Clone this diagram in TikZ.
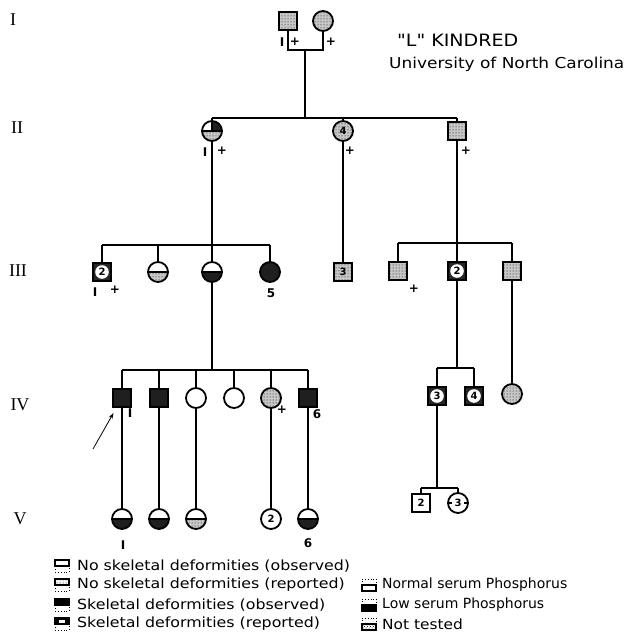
\documentclass[tikz,border=0pt]{standalone}
\usepackage{fontspec}
\setmainfont{DejaVu Sans}[Ligatures=TeXOff]
\newfontfamily\romanf{Liberation Serif}
\usetikzlibrary{patterns,arrows.meta}
\begin{document}
\begin{tikzpicture}[x=1pt,y=-1pt,
  ln/.style={line width=1.8pt},
  sq/.style={draw,line width=1.8pt,rectangle,minimum size=18pt,inner sep=0pt,font=\bfseries\fontsize{10}{10}\selectfont},
  ci/.style={draw,line width=1.8pt,circle,minimum size=20pt,inner sep=0pt,font=\bfseries\fontsize{10}{10}\selectfont},
  dotf/.style={preaction={fill=black!22},pattern=dots,pattern color=black},
  blk/.style={fill=black!88},
  lowblk/.style={path picture={\fill[black!88] (path picture bounding box.west) rectangle (path picture bounding box.south east);
      \draw[line width=1.2pt] (path picture bounding box.west) -- (path picture bounding box.east);}},
  lowdot/.style={path picture={\fill[black!22] (path picture bounding box.west) rectangle (path picture bounding box.south east);
      \fill[pattern=dots] (path picture bounding box.west) rectangle (path picture bounding box.south east);
      \draw[line width=1.2pt] (path picture bounding box.west) -- (path picture bounding box.east);}},
  midline/.style={path picture={\draw[line width=1.2pt] (path picture bounding box.west) -- ++(4pt,0pt) (path picture bounding box.east) -- ++(-4pt,0pt);}},
  quad/.style={path picture={\fill[black!88] (path picture bounding box.north) rectangle (path picture bounding box.east);
      \fill[black!22] (path picture bounding box.west) rectangle (path picture bounding box.south east);
      \fill[pattern=dots] (path picture bounding box.west) rectangle (path picture bounding box.south east);
      \draw[line width=1.2pt] (path picture bounding box.west) -- (path picture bounding box.east)
        (path picture bounding box.north) -- (path picture bounding box.center);}},
  repsq/.style={sq,fill=black!85,path picture={\fill[white] (path picture bounding box.center) circle (6.8pt);}},
  lbl/.style={font=\bfseries\fontsize{12}{12}\selectfont,inner sep=0pt},
  gen/.style={font=\romanf\fontsize{18}{18}\selectfont,inner sep=0pt},
  leg/.style={font=\fontsize{14}{14}\selectfont,anchor=west,inner sep=0pt},
  icon/.style={line width=1.3pt},
  dicon/.style={line width=0.9pt,dotted}
]
\useasboundingbox (0,0) rectangle (629,643);
% generation numerals
\node[gen] (gI) at (13,20) {I};
\node[gen] (gII) at (17,128) {II};
\node[gen] (gIII) at (18,271) {III};
\node[gen] (gIV) at (20,405) {IV};
\node[gen] (gV) at (20,519) {V};
% title
\node[font=\fontsize{17}{17}\selectfont,anchor=west,inner sep=0pt] (t1) at (397,40) {\scalebox{1.12}[1]{"L" KINDRED}};
\node[font=\fontsize{15}{15}\selectfont,anchor=west,inner sep=0pt] (t2) at (389,64) {\scalebox{1.13}[1]{University of North Carolina}};
% generation I
\node[sq,dotf] (I1) at (288,21) {};
\node[ci,dotf] (I2) at (323,21) {};
\coordinate (m1) at (288,50); \coordinate (m2) at (323,50); \coordinate (d1) at (305,50);
\draw[ln] (I1) -- (m1) -- (m2) -- (I2);
\node[lbl] (lI1a) at (282,42) {I};
\node[lbl] (lI1b) at (295,42) {+};
\node[lbl] (lI2) at (331,42) {+};
% generation II
\coordinate (s2l) at (212,118); \coordinate (s2m) at (305,118); \coordinate (s2c) at (343,118); \coordinate (s2r) at (457,118);
\draw[ln] (d1) -- (s2m);
\draw[ln] (s2l) -- (s2r);
\node[ci,quad] (II1) at (212,131) {};
\node[ci,dotf] (II2) at (343,131) {4};
\node[sq,dotf] (II3) at (457,131) {};
\draw[ln] (s2l) -- (II1); \draw[ln] (s2c) -- (II2); \draw[ln] (s2r) -- (II3);
\node[lbl] (lII1a) at (205,152) {I};
\node[lbl] (lII1b) at (222,151) {+};
\node[lbl] (lII2) at (350,151) {+};
\node[lbl] (lII3) at (466,151) {+};
% generation III left
\coordinate (s3a) at (102,245); \coordinate (s3b) at (158,245); \coordinate (s3c) at (212,245); \coordinate (s3d) at (270,245);
\draw[ln] (II1) -- (s3c);
\draw[ln] (s3a) -- (s3d);
\node[repsq] (III1) at (102,272) {2};
\node[ci,lowdot] (III2) at (158,272) {};
\node[ci,lowblk] (III3) at (212,272) {};
\node[ci,blk] (III4) at (270,272) {};
\draw[ln] (s3a) -- (III1); \draw[ln] (s3b) -- (III2); \draw[ln] (s3c) -- (III3); \draw[ln] (s3d) -- (III4);
\node[lbl] (lIII1a) at (95,292) {I};
\node[lbl] (lIII1b) at (115,290) {+};
\node[lbl] (lIII4) at (271,293) {5};
% III-5
\node[sq,dotf] (III5) at (343,272) {3};
\draw[ln] (II2) -- (III5);
% generation III right
\coordinate (s3e) at (398,243); \coordinate (s3f) at (457,243); \coordinate (s3g) at (512,243);
\draw[ln] (II3) -- (s3f);
\draw[ln] (s3e) -- (s3g);
\node[sq,dotf] (III6) at (398,271) {};
\node[repsq] (III7) at (457,271) {2};
\node[sq,dotf] (III8) at (512,271) {};
\draw[ln] (s3e) -- (III6); \draw[ln] (s3f) -- (III7); \draw[ln] (s3g) -- (III8);
\node[lbl] (lIII6) at (414,289) {+};
% generation IV left
\coordinate (s4a) at (122,370); \coordinate (s4b) at (159,370); \coordinate (s4c) at (196,370);
\coordinate (s4m) at (212,370); \coordinate (s4d) at (234,370); \coordinate (s4e) at (271,370); \coordinate (s4f) at (308,370);
\draw[ln] (III3) -- (s4m);
\draw[ln] (s4a) -- (s4f);
\node[sq,blk] (IV1) at (122,398) {};
\node[sq,blk] (IV2) at (159,398) {};
\node[ci] (IV3) at (196,398) {};
\node[ci] (IV4) at (234,398) {};
\node[ci,dotf] (IV5) at (271,398) {};
\node[sq,blk] (IV6) at (308,398) {};
\draw[ln] (s4a) -- (IV1); \draw[ln] (s4b) -- (IV2); \draw[ln] (s4c) -- (IV3);
\draw[ln] (s4d) -- (IV4); \draw[ln] (s4e) -- (IV5); \draw[ln] (s4f) -- (IV6);
\node[lbl] (lIV1) at (130,413) {I};
\node[lbl] (lIV5) at (282,410) {+};
\node[lbl] (lIV6) at (317,414) {6};
\coordinate (arr) at (93,449);
\draw[line width=0.8pt,-{Stealth[length=6pt,width=4pt]}] (arr) -- (113.5,413);
% generation IV right
\coordinate (s4g) at (437,368); \coordinate (s4h) at (457,368); \coordinate (s4i) at (474,368);
\draw[ln] (III7) -- (s4h);
\draw[ln] (s4g) -- (s4i);
\node[repsq] (IV7) at (437,396) {3};
\node[repsq] (IV8) at (474,396) {4};
\node[ci,dotf] (IV9) at (512,394) {};
\draw[ln] (s4g) -- (IV7); \draw[ln] (s4i) -- (IV8); \draw[ln] (III8) -- (IV9);
% generation V left
\node[ci,lowblk] (V1) at (122,519) {};
\node[ci,lowblk] (V2) at (159,519) {};
\node[ci,lowdot] (V3) at (196,519) {};
\node[ci] (V4) at (271,519) {2};
\node[ci,lowblk] (V5) at (308,519) {};
\draw[ln] (IV1) -- (V1); \draw[ln] (IV2) -- (V2); \draw[ln] (IV3) -- (V3);
\draw[ln] (IV5) -- (V4); \draw[ln] (IV6) -- (V5);
\node[lbl] (lV1) at (123,545) {I};
\node[lbl] (lV5) at (308,543) {6};
% generation V right
\coordinate (s5a) at (421,488); \coordinate (s5b) at (437,488); \coordinate (s5c) at (458,488);
\draw[ln] (IV7) -- (s5b);
\draw[ln] (s5a) -- (s5c);
\node[sq] (V6) at (421,503) {2};
\node[ci,midline] (V7) at (458,503) {3};
\draw[ln] (s5a) -- (V6); \draw[ln] (s5c) -- (V7);
% legend left
\foreach \y/\n in {566/a,585/b,605/c,624/d}{
  \coordinate (ic\n) at (62,\y);
  \draw[dicon] ([shift={(-7,0)}]ic\n) -- ++(0,6) -- ++(14,0) -- ++(0,-6);
}
\draw[icon] ([shift={(-7,-6)}]ica) rectangle ([shift={(7,0)}]ica);
\draw[icon,pattern=dots] ([shift={(-7,-6)}]icb) rectangle ([shift={(7,0)}]icb);
\draw[icon,fill=black] ([shift={(-7,-6)}]icc) rectangle ([shift={(7,0)}]icc);
\draw[icon,fill=black] ([shift={(-7,-6)}]icd) rectangle ([shift={(7,0)}]icd);
\fill[white] ([shift={(-3,-4.5)}]icd) rectangle ([shift={(3,-1.5)}]icd);
\node[leg] (la) at (77,566) {\scalebox{1.13}[1]{No skeletal deformities (observed)}};
\node[leg] (lb) at (77,585) {\scalebox{1.13}[1]{No skeletal deformities (reported)}};
\node[leg] (lc) at (77,605) {\scalebox{1.13}[1]{Skeletal deformities (observed)}};
\node[leg] (ld) at (77,624) {\scalebox{1.13}[1]{Skeletal deformities (reported)}};
% legend right
\foreach \y/\n in {585/e,605/f,624/g}{
  \coordinate (ic\n) at (369,\y);
  \draw[dicon] ([shift={(-7,0)}]ic\n) -- ++(0,-6) -- ++(14,0) -- ++(0,6);
}
\draw[icon] ([shift={(-7,0)}]ice) rectangle ([shift={(7,6)}]ice);
\draw[icon,fill=black] ([shift={(-7,0)}]icf) rectangle ([shift={(7,6)}]icf);
\draw[icon,pattern=crosshatch dots] ([shift={(-7,0)}]icg) rectangle ([shift={(7,6)}]icg);
\node[leg] (le) at (382,585) {Normal serum Phosphorus};
\node[leg] (lf) at (382,605) {Low serum Phosphorus};
\node[leg] (lg) at (382,624) {\scalebox{1.1}[1]{Not tested}};
\end{tikzpicture}
\end{document}
